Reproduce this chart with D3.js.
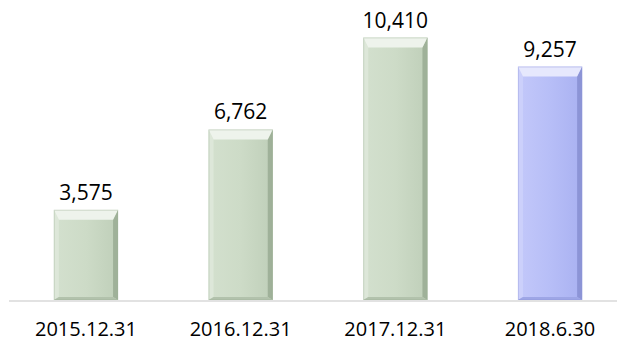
<!doctype html>
<html>
  <head>
    <title>Bevel bars</title>
    <script src="https://d3js.org/d3.v7.min.js"></script>
    <style>
        body {
            margin: 0;
            padding: 0;
            background: #fff;
        }
        html {
            font-family: "Open Sans", "Noto Sans", Arial;
        }
    </style>
  </head>
  <body>
        <div id="chart"></div>
        <script>

            // data
            var categories = ["2015.12.31", "2016.12.31", "2017.12.31", "2018.6.30"];
            var values = [3575, 6762, 10410, 9257];
            var highlight = [false, false, false, true];

            var width = 617;
            var height = 341;
            var baseY = 300;

            var svg = d3.select("#chart")
                .append("svg")
                .attr("width", width)
                .attr("height", height);

            var x = d3.scaleBand()
                .domain(categories)
                .range([9, 627])
                .paddingInner(0.585)
                .paddingOuter(0.29);

            var y = d3.scaleLinear()
                .domain([0, 10410])
                .range([baseY, 37.5]);

            var palettes = {
                green: {main: ["#d3e0ce", "#cddbc7", "#bfcfb9"], top: "#eef3ec", left: "#dde7d9", right: "#9fb199", bottom: "#b2c2ac"},
                blue: {main: ["#c3c8fa", "#b7bef7", "#a9b1f1"], top: "#e6e8fd", left: "#ccd0fb", right: "#8c94d6", bottom: "#9ea6e6"}
            };

            var defs = svg.append("defs");
            Object.keys(palettes).forEach(function(k) {
                var g = defs.append("linearGradient")
                    .attr("id", "grad-" + k)
                    .attr("x1", 0).attr("x2", 1).attr("y1", 0).attr("y2", 0);
                palettes[k].main.forEach(function(c, i) {
                    g.append("stop").attr("offset", i / 2).attr("stop-color", c);
                });
            });

            // baseline
            svg.append("line")
                .attr("x1", 9)
                .attr("x2", width)
                .attr("y1", baseY + 1)
                .attr("y2", baseY + 1)
                .attr("stroke", "#d9d9d9")
                .attr("stroke-width", 1.5);

            var bevelTop = 10, bevelSide = 5, bevelBottom = 3;

            var bars = svg.selectAll("g.bar")
                .data(values)
                .enter()
                .append("g")
                .attr("class", "bar");

            bars.each(function(d, i) {
                var g = d3.select(this);
                var key = highlight[i] ? "blue" : "green";
                var p = palettes[key];
                var x0 = x(categories[i]), x1 = x0 + x.bandwidth();
                var y0 = y(d), y1 = y(0);
                var pts = function(a) { return a.map(function(q) { return q.join(","); }).join(" "); };

                g.append("rect")
                    .attr("x", x0).attr("y", y0)
                    .attr("width", x1 - x0).attr("height", y1 - y0)
                    .attr("fill", "url(#grad-" + key + ")");
                // left
                g.append("polygon")
                    .attr("points", pts([[x0, y0], [x0 + bevelSide, y0 + bevelTop], [x0 + bevelSide, y1 - bevelBottom], [x0, y1]]))
                    .attr("fill", p.left);
                // right
                g.append("polygon")
                    .attr("points", pts([[x1, y0], [x1 - bevelSide, y0 + bevelTop], [x1 - bevelSide, y1 - bevelBottom], [x1, y1]]))
                    .attr("fill", p.right);
                // bottom
                g.append("polygon")
                    .attr("points", pts([[x0, y1], [x0 + bevelSide, y1 - bevelBottom], [x1 - bevelSide, y1 - bevelBottom], [x1, y1]]))
                    .attr("fill", p.bottom);
                // top
                g.append("polygon")
                    .attr("points", pts([[x0, y0], [x1, y0], [x1 - bevelSide, y0 + bevelTop], [x0 + bevelSide, y0 + bevelTop]]))
                    .attr("fill", p.top);
                // outline
                g.append("rect")
                    .attr("x", x0 + 0.5).attr("y", y0 + 0.5)
                    .attr("width", x1 - x0 - 1).attr("height", y1 - y0 - 1)
                    .attr("fill", "none")
                    .attr("stroke", p.right)
                    .attr("stroke-opacity", 0.35);
            });

            // value labels
            svg.selectAll("text.value")
                .data(values)
                .enter()
                .append("text")
                .attr("class", "value")
                .attr("x", (d, i) => x(categories[i]) + x.bandwidth() / 2)
                .attr("y", (d) => y(d) - 10)
                .attr("text-anchor", "middle")
                .attr("font-size", "21px")
                .attr("fill", "#000")
                .text((d) => d3.format(",")(d));

            // category labels
            svg.selectAll("text.cat")
                .data(categories)
                .enter()
                .append("text")
                .attr("class", "cat")
                .attr("x", (d) => x(d) + x.bandwidth() / 2)
                .attr("y", 336)
                .attr("text-anchor", "middle")
                .attr("font-size", "20px")
                .attr("fill", "#000")
                .text((d) => d);

        </script>
    </body>
</html>
